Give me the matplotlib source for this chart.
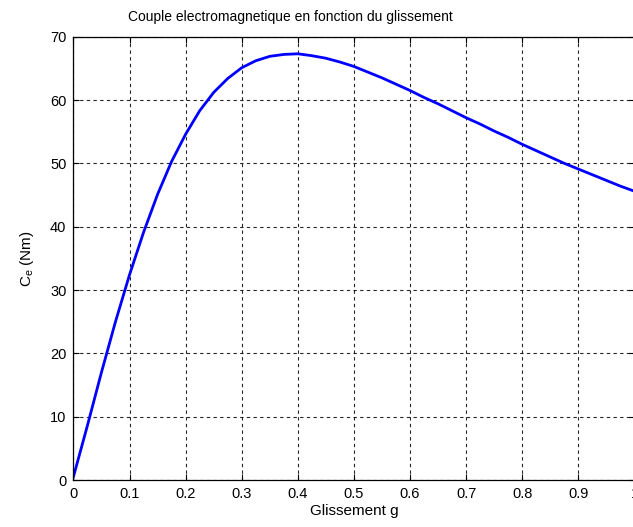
import matplotlib
matplotlib.use("Agg")
import matplotlib.pyplot as plt

plt.rcParams['font.family'] = ['Liberation Sans', 'DejaVu Sans']
plt.rcParams['mathtext.default'] = 'regular'

# Slip values and electromagnetic torque (Nm)
glissement = [0.0, 0.025, 0.05, 0.075, 0.1, 0.125, 0.15, 0.175, 0.2, 0.225,
              0.25, 0.275, 0.3, 0.325, 0.35, 0.375, 0.4, 0.425, 0.45, 0.475,
              0.5, 0.525, 0.55, 0.575, 0.6, 0.625, 0.65, 0.675, 0.7, 0.725,
              0.75, 0.775, 0.8, 0.825, 0.85, 0.875, 0.9, 0.925, 0.95, 0.975, 1.0]
couple = [0.5, 8.6, 17.0, 25.0, 32.4, 39.1, 45.1, 50.3, 54.6, 58.3,
          61.2, 63.4, 65.1, 66.2, 66.9, 67.2, 67.3, 67.0, 66.6, 66.0,
          65.3, 64.4, 63.5, 62.5, 61.5, 60.4, 59.4, 58.3, 57.2, 56.2,
          55.1, 54.1, 53.0, 52.0, 51.0, 50.0, 49.1, 48.2, 47.3, 46.4, 45.6]

x_ticks = [0, 0.1, 0.2, 0.3, 0.4, 0.5, 0.6, 0.7, 0.8, 0.9, 1]
x_ticklabels = ['0', '0.1', '0.2', '0.3', '0.4', '0.5', '0.6', '0.7', '0.8', '0.9', '1']
y_ticks = [0, 10, 20, 30, 40, 50, 60, 70]

W, H = 633, 527
fig = plt.figure(figsize=(W / 100, H / 100), dpi=100)
# axes box: x from 73.4 px to 634.5 px (right edge runs just past the canvas)
ax = fig.add_axes([73.4 / W, 1 - 480 / H, 561.1 / W, 443.3 / H])

ax.plot(glissement, couple, color='#0000ff', linewidth=2)

ax.set_xlim(0, 1)
ax.set_ylim(0, 70)
ax.set_xticks(x_ticks)
ax.set_xticklabels(x_ticklabels)
ax.set_yticks(y_ticks)
ax.tick_params(direction='in', length=4, width=0.8, labelsize=10.5,
               top=True, right=True, colors='black', pad=5)
ax.grid(True, color='black', linestyle=(0, (3, 3)), linewidth=0.8, alpha=0.85)
for sp in ax.spines.values():
    sp.set_linewidth(0.9)

fig.text(290.5 / W, 1 - 17 / H, 'Couple electromagnetique en fonction du glissement',
         fontsize=10, ha='center', va='center')
ax.set_xlabel('Glissement g', fontsize=11, labelpad=2)
ax.set_ylabel('$C_e$ (Nm)', fontsize=11, labelpad=10)

fig.savefig('out.png', dpi=100, facecolor='white')
